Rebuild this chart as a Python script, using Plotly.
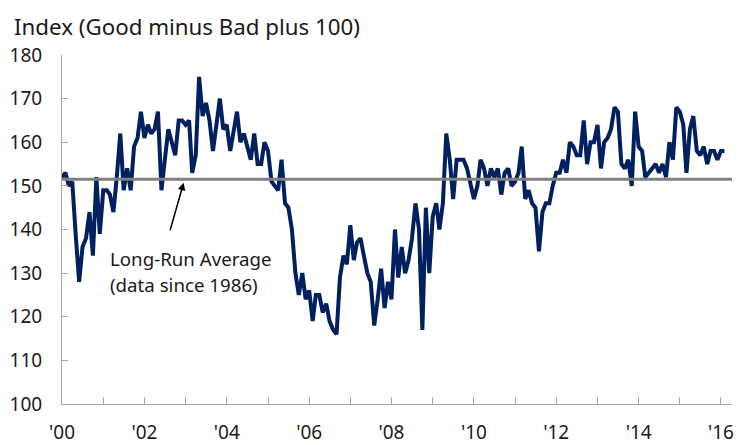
import pandas as pd
import plotly.graph_objects as go

# monthly index values, Jan 2000 .. Feb 2016
index_values = [
    152, 153, 150, 151, 139, 128, 136, 138, 144, 134, 152, 139,  # 2000
    149, 149, 148, 144, 152, 162, 149, 154, 149, 159, 161, 167,  # 2001
    161, 164, 162, 163, 167, 149, 156, 163, 160, 157, 165, 165,  # 2002
    164, 165, 153, 157, 175, 166, 169, 165, 158, 164, 170, 163,  # 2003
    164, 158, 163, 167, 160, 162, 159, 156, 162, 155, 155, 160,  # 2004
    158, 151, 150, 149, 156, 146, 145, 140, 130, 125, 130, 124,  # 2005
    126, 119, 125, 125, 121, 123, 119, 117, 116, 129, 134, 132,  # 2006
    141, 133, 137, 138, 134, 130, 128, 118, 124, 131, 122, 128,  # 2007
    124, 140, 129, 136, 130, 133, 138, 146, 140, 117, 145, 130,  # 2008
    143, 146, 140, 146, 162, 156, 147, 156, 156, 156, 154, 150,  # 2009
    147, 150, 156, 154, 150, 154, 152, 154, 148, 153, 154, 150,  # 2010
    151, 153, 159, 147, 149, 146, 145, 135, 144, 146, 146, 150,  # 2011
    153, 153, 156, 153, 160, 159, 157, 157, 165, 155, 160, 160,  # 2012
    164, 154, 160, 161, 163, 168, 167, 155, 154, 156, 150, 167,  # 2013
    159, 158, 152, 153, 154, 155, 153, 155, 152, 160, 156, 168,  # 2014
    167, 164, 153, 163, 166, 158, 157, 159, 155, 158, 158, 156,  # 2015
    158, 158,                                                    # 2016
]
long_run_avg = 151.5

tick_years = list(range(2000, 2017))
tick_labels = ["'%02d" % (y % 100) if y % 2 == 0 else "" for y in tick_years]

dates = pd.date_range("2000-01-01", periods=len(index_values), freq="MS")
tick_dates = [pd.Timestamp(y, 1, 1) for y in tick_years]

FONT = "Noto Sans, Open Sans, sans-serif"
AXIS_GRAY = "#a6a6a6"
TEXT = "#1a1a1a"

fig = go.Figure()
fig.add_trace(go.Scatter(x=dates, y=index_values, mode="lines",
                         line=dict(color="#002060", width=4),
                         hoverinfo="skip", showlegend=False))

fig.add_hline(y=long_run_avg, line=dict(color="#808080", width=3))

# arrow pointing up at the average line
fig.add_annotation(x=pd.Timestamp("2002-12-15"), y=long_run_avg - 0.8,
                   xref="x", yref="y", text="", showarrow=True,
                   arrowhead=2, arrowsize=1, arrowwidth=1.5, arrowcolor="#000000",
                   ax=-14, ay=49)
# the two lines of the note, spaced like the original
fig.add_annotation(x=0.069, y=0.418, xref="paper", yref="paper",
                   text="Long-Run Average", showarrow=False,
                   xanchor="left", yanchor="middle",
                   font=dict(family=FONT, size=18.7, color=TEXT))
fig.add_annotation(x=0.069, y=0.341, xref="paper", yref="paper",
                   text="(data since 1986)", showarrow=False,
                   xanchor="left", yanchor="middle",
                   font=dict(family=FONT, size=18.7, color=TEXT))

fig.add_annotation(x=-0.075, y=1.083, xref="paper", yref="paper",
                   text="Index (Good minus Bad plus 100)",
                   showarrow=False, xanchor="left", yanchor="middle",
                   font=dict(family=FONT, size=22.3, color=TEXT))

fig.update_xaxes(range=[pd.Timestamp("2000-01-01"), pd.Timestamp("2016-04-08")],
                 tickmode="array", tickvals=tick_dates, ticktext=tick_labels,
                 ticks="inside", ticklen=7, tickcolor=AXIS_GRAY, tickwidth=1,
                 showline=True, linecolor=AXIS_GRAY, linewidth=1,
                 showgrid=False, zeroline=False, ticklabelstandoff=11,
                 automargin=False,
                 tickfont=dict(family=FONT, size=19, color=TEXT))
fig.update_yaxes(range=[100, 180], dtick=10, tick0=100,
                 ticks="inside", ticklen=6, tickcolor=AXIS_GRAY, tickwidth=1,
                 showline=True, linecolor=AXIS_GRAY, linewidth=1,
                 showgrid=False, zeroline=False, ticklabelstandoff=15,
                 automargin=False,
                 tickfont=dict(family=FONT, size=19, color=TEXT))

fig.update_layout(width=743, height=445,
                  margin=dict(l=62, r=11, t=55, b=41),
                  plot_bgcolor="white", paper_bgcolor="white",
                  font=dict(family=FONT))

fig.write_html("out.html", config={"displayModeBar": False},
               post_script="document.body.style.margin='0';")
